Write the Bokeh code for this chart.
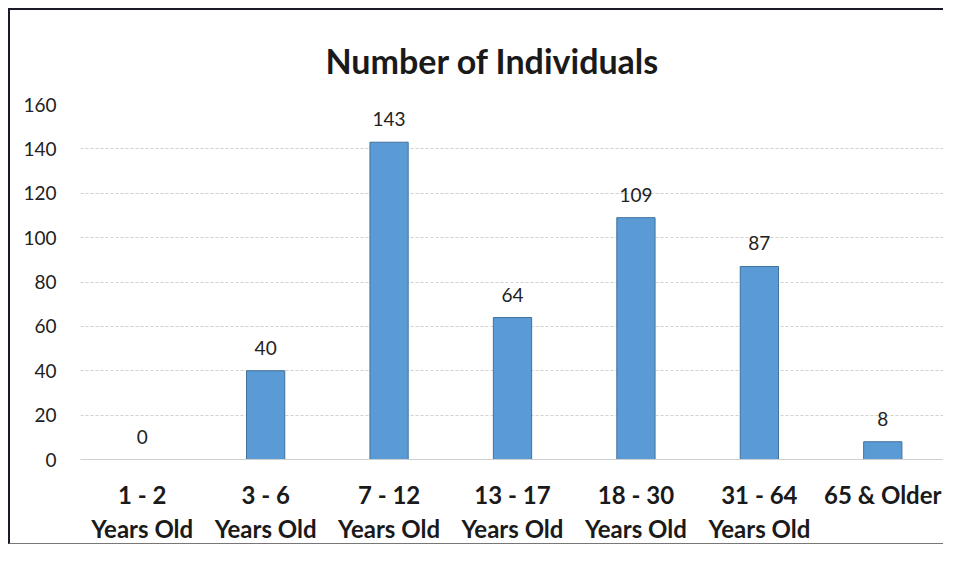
from bokeh.plotting import figure
from bokeh.models import ColumnDataSource, Title
from bokeh.embed import file_html
from bokeh.resources import INLINE

title_text = "Number of Individuals"
categories = ["1 - 2\nYears Old", "3 - 6\nYears Old", "7 - 12\nYears Old", "13 - 17\nYears Old",
              "18 - 30\nYears Old", "31 - 64\nYears Old", "65 & Older"]
counts = [0, 40, 143, 64, 109, 87, 8]
y_ticks = [0, 20, 40, 60, 80, 100, 120, 140, 160]

src = ColumnDataSource(dict(cat=categories, val=counts, lab=[str(v) for v in counts]))

p = figure(x_range=categories, y_range=(0, 160), width=935, height=536,
           output_backend="svg", toolbar_location=None,
           min_border_left=70, min_border_right=1, min_border_top=94, min_border_bottom=81)
p.styles = {"border-left": "2px solid #1a1a2a", "border-top": "2px solid #1a1a2a",
            "border-bottom": "1px solid #777", "border-right": "none",
            "margin-left": "8px", "margin-top": "8px"}

t = Title(text=title_text, align="left", text_font="Lato",
          text_font_size="34px", text_font_style="bold", text_color="#1a1a1a",
          standoff=47, offset=245)
p.add_layout(t, "above")

p.vbar(x="cat", top="val", width=0.31, source=src, fill_color="#5B9BD5",
       line_color="#41719C", line_width=1)
p.text(x="cat", y="val", text="lab", source=src, text_align="center",
       text_baseline="bottom", y_offset=-16, text_font_size="19px",
       text_color="#222222", text_font={"value": "Lato"})

p.outline_line_color = None
p.xgrid.grid_line_color = None
p.ygrid.grid_line_color = "#d0d0d0"
p.ygrid.grid_line_dash = "3 2"
p.ygrid.ticker = y_ticks

p.yaxis.ticker = y_ticks
p.yaxis.axis_line_color = None
p.yaxis.major_tick_line_color = None
p.yaxis.minor_tick_line_color = None
p.yaxis.major_label_text_font = "Lato"
p.yaxis.major_label_text_font_size = "19px"
p.yaxis.major_label_text_color = "#222222"
p.yaxis.major_label_standoff = 18

p.xaxis.axis_line_color = "#d0d0d0"
p.xaxis.major_tick_line_color = None
p.xaxis.minor_tick_line_color = None
p.xaxis.major_label_text_font = "Lato"
p.xaxis.major_label_text_font_style = "bold"
p.xaxis.major_label_text_font_size = "24px"
p.xaxis.major_label_text_color = "#1a1a1a"
p.xaxis.major_label_standoff = 14

open("out.html", "w").write(file_html(p, INLINE))
